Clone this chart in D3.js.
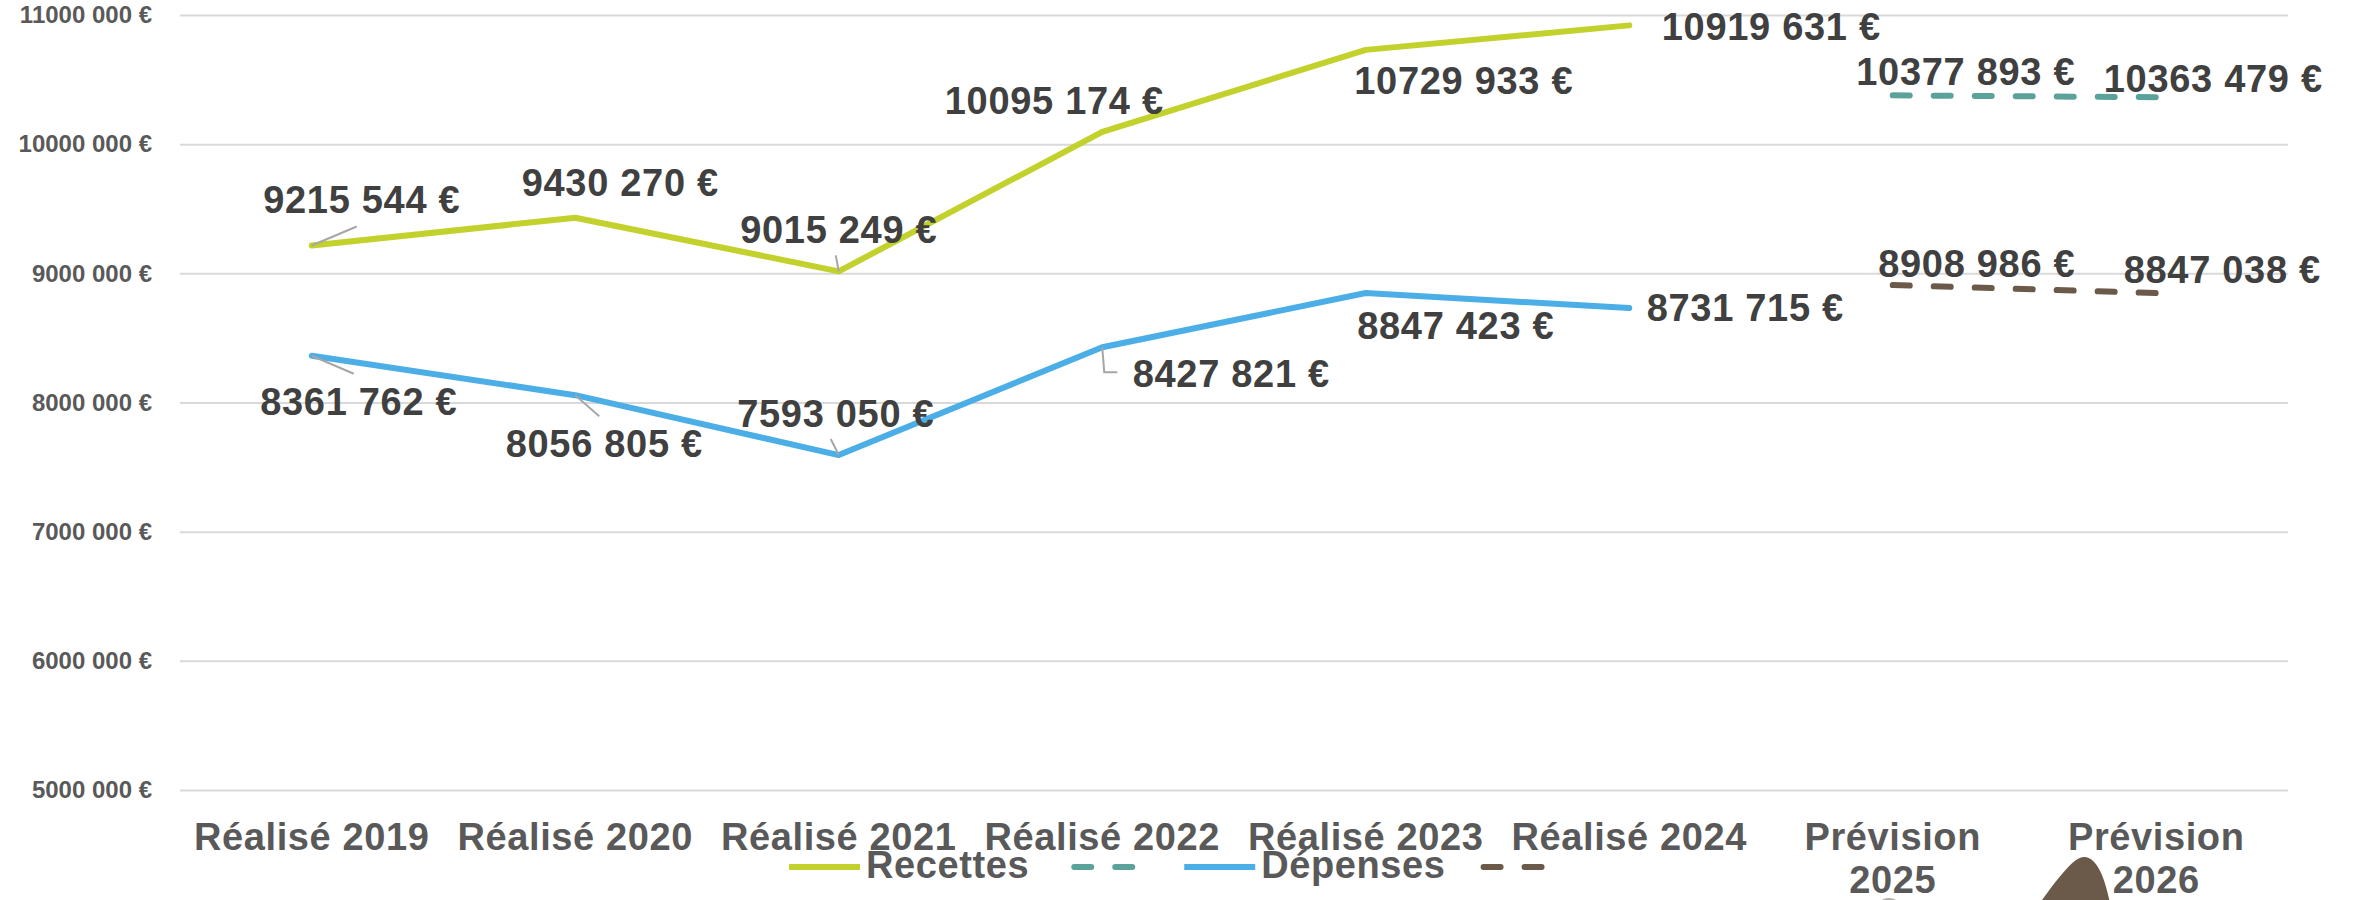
<!DOCTYPE html>
<html>
<head>
<meta charset="utf-8">
<script src="https://cdn.jsdelivr.net/npm/d3@7"></script>
<style>
  body { margin: 0; background: #fff; }
  text { font-family: "Liberation Sans", Arial, sans-serif; font-weight: bold; }
</style>
</head>
<body>
<svg id="chart"></svg>
<script>
// chart data
const categories = ["Réalisé 2019", "Réalisé 2020", "Réalisé 2021", "Réalisé 2022",
  "Réalisé 2023", "Réalisé 2024", "Prévision 2025", "Prévision 2026"];
const realCategories = categories.slice(0, 6);
const prevCategories = categories.slice(6);

const recettes = [9215544, 9430270, 9015249, 10095174, 10729933, 10919631];
const depenses = [8361762, 8056805, 7593050, 8427821, 8847423, 8731715];
const recettesPrev = [10377893, 10363479];
const depensesPrev = [8908986, 8847038];

const yTicks = [5000000, 6000000, 7000000, 8000000, 9000000, 10000000, 11000000];
const legendNames = ["Recettes", "", "Dépenses", ""];

// label placement relative to the point: [dx, dy, leader path or null]
const recettesLabelPos = [[50, -45, [[45, -19]]], [45, -35, null], [0, -41, [[-3, -16]]],
  [-48, -31, null], [98, 31, null], [142, 2, null]];
const recettesPrevLabelPos = [[73, -23, null], [57, -18, null]];
const depensesLabelPos = [[47, 46, [[42, 18]]], [29, 49, [[24, 21]]], [-3, -41, [[-8, -16]]],
  [129, 27, [[2, 25], [15, 25]]], [90, 33, null], [116, 0, null]];
const depensesPrevLabelPos = [[84, -21, null], [66, -23, null]];

const width = 2354, height = 900;
const margin = { top: 15, left: 180, right: 66, bottom: 110 };
const legendGaps = [42, 49, 35, 0];

const svg = d3.select("#chart").attr("width", width).attr("height", height);
svg.append("rect").attr("width", width).attr("height", height).attr("fill", "#fff");

const x = d3.scaleBand()
  .domain(categories)
  .range([margin.left, width - margin.right]);
const cx = (c) => x(c) + x.bandwidth() / 2;

const y = d3.scaleLinear()
  .domain([5000000, 11000000])
  .range([height - margin.bottom, margin.top]);

const fmt = (v) => {
  const s = String(Math.round(v));
  return `${s.slice(0, -3)} ${s.slice(-3)} €`;
};

// y axis with gridlines
const yAxis = svg.append("g")
  .attr("transform", `translate(${margin.left},0)`)
  .call(d3.axisLeft(y)
    .tickValues(yTicks)
    .tickFormat(fmt)
    .tickSize(-(width - margin.left - margin.right))
    .tickPadding(28));
yAxis.select(".domain").remove();
yAxis.selectAll(".tick line").attr("stroke", "#d9d9d9").attr("stroke-width", 2);
yAxis.selectAll(".tick text")
  .attr("fill", "#595959")
  .style("font-size", "24px")
  .style("font-family", "'Liberation Sans', Arial, sans-serif")
  .style("font-weight", "bold");

// x labels (two lines for the forecasts)
const xLabels = svg.append("g");
categories.forEach((c) => {
  const t = xLabels.append("text")
    .attr("x", cx(c))
    .attr("y", 850)
    .attr("text-anchor", "middle")
    .attr("fill", "#595959")
    .style("font-size", "38px")
    .style("letter-spacing", "0.6px");
  if (c.startsWith("Prévision")) {
    const parts = c.split(" ");
    t.append("tspan").attr("x", cx(c)).text(parts[0]);
    t.append("tspan").attr("x", cx(c)).attr("dy", 43).text(parts[1]);
  } else {
    t.text(c);
  }
});

const series = [
  { cats: realCategories, values: recettes, color: "#c3d12d", dash: null, pos: recettesLabelPos },
  { cats: prevCategories, values: recettesPrev, color: "#5ba39a", dash: "17 24", pos: recettesPrevLabelPos },
  { cats: realCategories, values: depenses, color: "#4caee6", dash: null, pos: depensesLabelPos },
  { cats: prevCategories, values: depensesPrev, color: "#6b5a4a", dash: "17 24", pos: depensesPrevLabelPos }
];

const line = d3.line()
  .x((d) => cx(d.cat))
  .y((d) => y(d.value));

series.forEach((s) => {
  const pts = s.cats.map((c, i) => ({ cat: c, value: s.values[i] }));
  svg.append("path")
    .datum(pts)
    .attr("fill", "none")
    .attr("stroke", s.color)
    .attr("stroke-width", 6)
    .attr("stroke-linecap", "round")
    .attr("stroke-linejoin", "round")
    .attr("stroke-dasharray", s.dash)
    .attr("d", line);
});

// data labels and leader lines
series.forEach((s) => {
  s.cats.forEach((c, i) => {
    const px = cx(c), py = y(s.values[i]);
    const [dx, dy, leader] = s.pos[i];
    if (leader) {
      const path = d3.path();
      path.moveTo(px, py);
      leader.forEach(([lx, ly]) => path.lineTo(px + lx, py + ly));
      svg.append("path")
        .attr("d", path.toString())
        .attr("fill", "none")
        .attr("stroke", "#a6a6a6")
        .attr("stroke-width", 2);
    }
    svg.append("text")
      .attr("x", px + dx)
      .attr("y", py + dy + 13)
      .attr("text-anchor", "middle")
      .attr("fill", "#404040")
      .style("font-size", "38px")
      .style("letter-spacing", "0.7px")
      .text(fmt(s.values[i]));
  });
});

// legend
const legend = svg.append("g");
let lx = 789;
const ly = 867;
series.forEach((s, i) => {
  const markerW = s.dash ? 58 : 71;
  const off = s.dash ? 3 : 0;
  legend.append("line")
    .attr("x1", lx + off).attr("x2", lx + off + markerW)
    .attr("y1", ly).attr("y2", ly)
    .attr("stroke", s.color)
    .attr("stroke-width", 6)
    .attr("stroke-linecap", s.dash ? "round" : "butt")
    .attr("stroke-dasharray", s.dash);
  lx += markerW + off * 2;
  if (legendNames[i]) {
    const t = legend.append("text")
      .attr("x", lx + 6)
      .attr("y", 878)
      .attr("fill", "#595959")
      .style("font-size", "38px")
      .style("letter-spacing", "0.6px")
      .text(legendNames[i]);
    lx += 6 + t.node().getComputedTextLength();
  }
  lx += legendGaps[i];
});

// stray shapes at the bottom edge of the original picture
const bx = cx("Prévision 2026");
svg.append("path")
  .attr("d", `M${bx - 125},915 C${bx - 100},880 ${bx - 82},855 ${bx - 71},857 C${bx - 58},859 ${bx - 50},880 ${bx - 44},915 Z`)
  .attr("fill", "#6b5a4a");
svg.append("circle")
  .attr("cx", cx("Prévision 2025") - 4)
  .attr("cy", 912)
  .attr("r", 14)
  .attr("fill", "#b5aca3");
</script>
</body>
</html>
